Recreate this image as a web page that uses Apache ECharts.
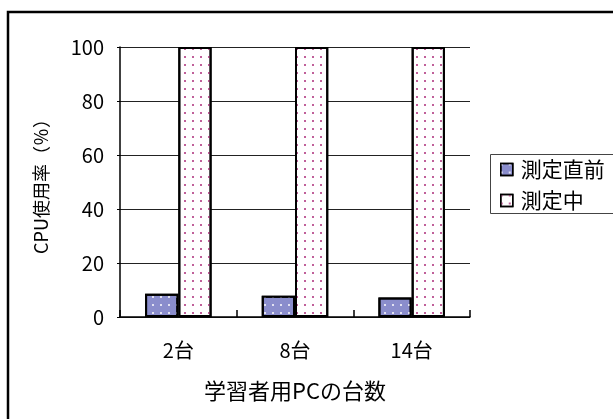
<!DOCTYPE html>
<html>
<head>
<meta charset="utf-8">
<script src="https://cdn.jsdelivr.net/npm/echarts@6/dist/echarts.min.js"></script>
<style>
  html, body { margin: 0; padding: 0; background: #fff; }
  #chart { width: 613px; height: 419px; }
</style>
</head>
<body>
<div id="chart"></div>
<script>
// CPU usage of the teacher PC by number of learner PCs
const categories = ['2台', '8台', '14台'];
const seriesNames = ['測定直前', '測定中'];
const beforeValues = [8.6, 7.9, 7.2];
const duringValues = [100, 100, 100];
const yTicks = [0, 20, 40, 60, 80, 100];

const FONT = '"Noto Sans CJK JP", "Noto Sans", sans-serif';

const chart = echarts.init(document.getElementById('chart'), null, { renderer: 'canvas' });

const dotDecal = (color) => ({
  symbol: 'rect',
  symbolSize: 1,
  color: color,
  dashArrayX: [2, 6],
  dashArrayY: [2, 6],
  rotation: 0
});

chart.setOption({
  animation: false,
  backgroundColor: '#fff',
  textStyle: { fontFamily: FONT },
  graphic: [
    // outer chart frame
    { type: 'rect', silent: true, z: 100,
      shape: { x: 8, y: 12, width: 700, height: 500 },
      style: { fill: 'none', stroke: '#000', lineWidth: 2.5 } },
    // legend frame
    { type: 'rect', silent: true, z: 100,
      shape: { x: 490.5, y: 154.5, width: 200, height: 59 },
      style: { fill: 'none', stroke: '#444', lineWidth: 1 } }
  ],
  legend: {
    orient: 'vertical',
    left: 500,
    top: 159,
    padding: 0,
    itemWidth: 12,
    itemHeight: 12,
    itemGap: 10,
    icon: 'rect',
    itemStyle: { borderColor: '#000', borderWidth: 1.5 },
    textStyle: { fontFamily: FONT, fontSize: 21, color: '#000', padding: [0, 0, 0, 3] },
    data: seriesNames
  },
  grid: { left: 120, right: 143, top: 47, bottom: 102, containLabel: false },
  xAxis: {
    type: 'category',
    data: categories,
    name: '学習者用PCの台数',
    nameLocation: 'middle',
    nameGap: 63,
    nameTextStyle: { fontFamily: FONT, fontSize: 22, color: '#000' },
    axisLine: { lineStyle: { color: '#000', width: 1.5 } },
    axisTick: { show: true, inside: true, length: 7, alignWithLabel: false, lineStyle: { color: '#000', width: 1.5 } },
    axisLabel: { fontFamily: FONT, fontSize: 20, color: '#000', margin: 23 }
  },
  yAxis: {
    type: 'value',
    min: yTicks[0],
    max: yTicks[yTicks.length - 1],
    interval: 20,
    name: 'CPU使用率（％）',
    nameLocation: 'middle',
    nameGap: 70,
    nameTextStyle: { fontFamily: FONT, fontSize: 18, color: '#000' },
    axisLine: { show: true, lineStyle: { color: '#000', width: 1.5 } },
    axisTick: { show: true, length: 3, lineStyle: { color: '#000' } },
    axisLabel: { fontFamily: FONT, fontSize: 20, color: '#000', margin: 16 },
    splitLine: { show: true, lineStyle: { color: '#222', width: 1 } }
  },
  series: [
    {
      name: seriesNames[0],
      type: 'bar',
      data: beforeValues,
      barGap: '0%',
      barCategoryGap: '43%',
      itemStyle: {
        color: '#8a8dcc',
        borderColor: '#000',
        borderWidth: 2,
        decal: dotDecal('rgba(255,255,255,0.75)')
      }
    },
    {
      name: seriesNames[1],
      type: 'bar',
      data: duringValues,
      barGap: '0%',
      barCategoryGap: '43%',
      itemStyle: {
        color: '#ffffff',
        borderColor: '#000',
        borderWidth: 2,
        decal: dotDecal('#c0609a')
      }
    }
  ]
});
</script>
</body>
</html>
